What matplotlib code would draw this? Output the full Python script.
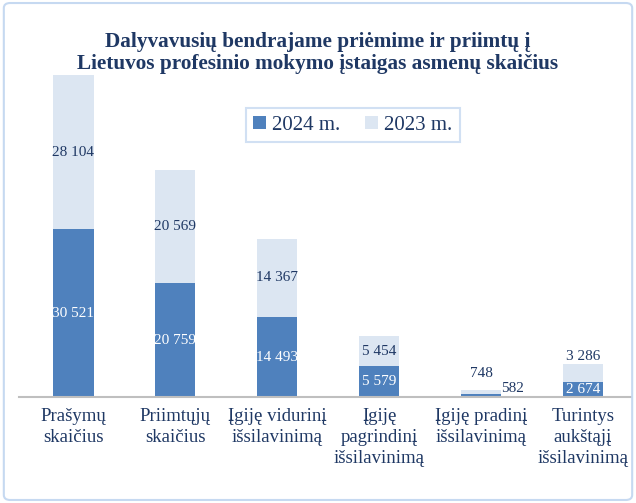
import numpy as np
import matplotlib.pyplot as plt
from matplotlib.patches import FancyBboxPatch

categories = ['Prašymų\nskaičius', 'Priimtųjų\nskaičius', 'Įgiję vidurinį\nišsilavinimą',
              'Įgiję\npagrindinį\nišsilavinimą', 'Įgiję pradinį\nišsilavinimą',
              'Turintys\naukštąjį\nišsilavinimą']
vals_2024 = [30521, 20759, 14493, 5579, 582, 2674]
vals_2023 = [28104, 20569, 14367, 5454, 748, 3286]

c24 = '#4f81bd'
c23 = '#dce6f2'
navy = '#1f3864'

plt.rcParams['font.family'] = ['Liberation Serif', 'DejaVu Serif']

def fmt(v):
    return '{:,}'.format(v).replace(',', ' ')

fig = plt.figure(figsize=(6.36, 5.03), dpi=100)
fig.patches.append(FancyBboxPatch((0.006, 0.006), 0.988, 0.988, boxstyle='round,pad=0,rounding_size=0.01',
                                  transform=fig.transFigure, fill=False, ec='#c6d9f1', lw=1.5))

ax = fig.add_axes([0.03, 0.2107, 0.962, 0.640])
x = np.arange(len(categories))
w = 0.4
ax.bar(x, vals_2024, w, color=c24, label='2024 m.')
ax.bar(x, vals_2023, w, bottom=vals_2024, color=c23, label='2023 m.')

ax.set_xlim(-0.53, 5.47)
ax.set_ylim(0, vals_2024[0] + vals_2023[0])

for i in range(len(x)):
    a, b = vals_2024[i], vals_2023[i]
    if a > 2000:
        ax.text(x[i], a / 2, fmt(a), ha='center', va='center', color='white', fontsize=11)
    else:
        ax.text(x[i] + 0.2, a + 900, fmt(a), ha='left', va='center', color=navy, fontsize=11)
    if b > 4000:
        ax.text(x[i], a + b / 2, fmt(b), ha='center', va='center', color=navy, fontsize=11)
    else:
        off = 3000 if b < 1000 else 1400
        ax.text(x[i], a + b + off, fmt(b), ha='center', va='center', color=navy, fontsize=11)

for s in ['top', 'right', 'left']:
    ax.spines[s].set_visible(False)
ax.spines['bottom'].set_color('#bfbfbf')
ax.spines['bottom'].set_linewidth(1.5)
ax.set_yticks([])
ax.set_xticks(x)
ax.set_xticklabels(categories, fontsize=13.5, color=navy, linespacing=1.3)
ax.tick_params(axis='x', length=0, pad=8)

leg = fig.legend(loc='center', bbox_to_anchor=(0.555, 0.751), ncol=2, fontsize=15,
                 frameon=True, fancybox=False, handlelength=0.6, handleheight=0.6,
                 handletextpad=0.3, columnspacing=1.2, borderpad=0.35)
leg.get_frame().set_edgecolor('#c6d9f1')
leg.get_frame().set_linewidth(1.5)
for t in leg.get_texts():
    t.set_color(navy)

fig.text(0.5, 0.895, 'Dalyvavusių bendrajame priėmime ir priimtų į\nLietuvos profesinio mokymo įstaigas asmenų skaičius',
         ha='center', va='center', fontsize=15.3, fontweight='bold', color=navy, linespacing=1.15)

plt.savefig('out.png', dpi=100)
